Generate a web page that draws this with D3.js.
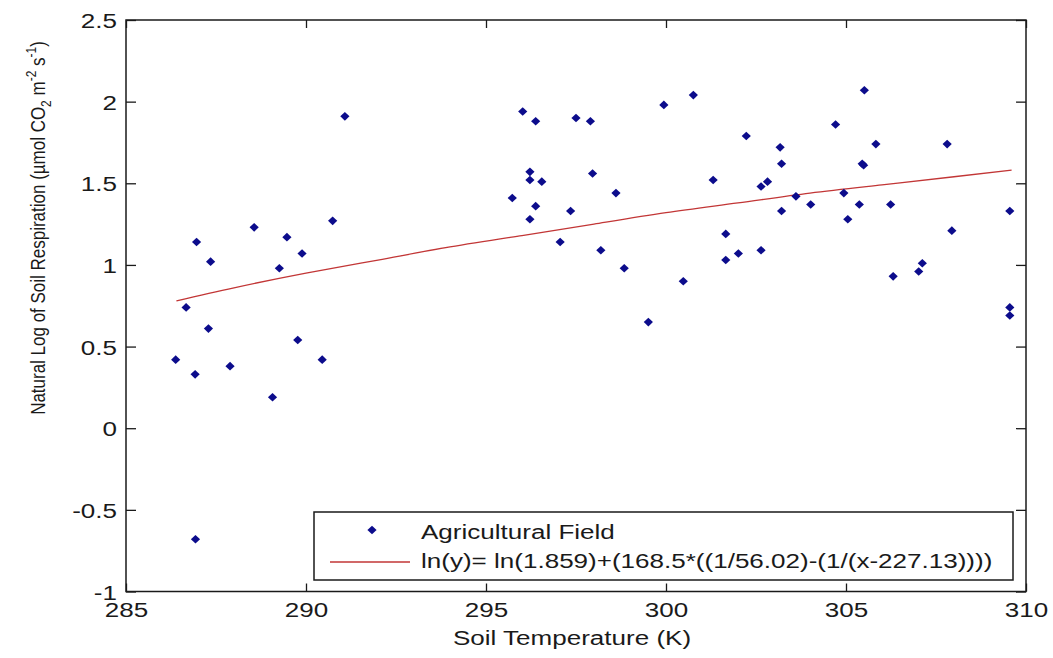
<!DOCTYPE html>
<html>
<head>
<meta charset="utf-8">
<script src="https://cdn.jsdelivr.net/npm/d3@7"></script>
<style>
  html, body { margin: 0; padding: 0; background: #fff; }
  svg { display: block; }
  text { font-family: "Liberation Sans", Arial, sans-serif; fill: #1a1a1a; }
</style>
</head>
<body>
<svg id="chart" width="1053" height="658"></svg>
<script>
// ---- data ----
const soilTemp = [286.38, 286.67, 286.92, 286.93, 286.96, 287.29, 287.35, 287.89, 288.56, 289.07,
  289.26, 289.47, 289.77, 289.89, 290.45, 290.74, 291.08, 295.73, 296.02, 296.22,
  296.22, 296.22, 296.38, 296.38, 296.55, 297.06, 297.35, 297.50, 297.90, 297.96,
  298.19, 298.61, 298.84, 299.51, 299.94, 300.48, 300.76, 301.31, 301.66, 301.66,
  302.01, 302.23, 302.64, 302.64, 302.82, 303.17, 303.21, 303.21, 303.61, 304.02,
  304.71, 304.94, 305.05, 305.37, 305.45, 305.49, 305.51, 305.83, 306.24, 306.31,
  307.02, 307.12, 307.81, 307.94, 309.55, 309.55, 309.55];
const lnResp = [0.42, 0.74, 0.33, -0.68, 1.14, 0.61, 1.02, 0.38, 1.23, 0.19,
  0.98, 1.17, 0.54, 1.07, 0.42, 1.27, 1.91, 1.41, 1.94, 1.57,
  1.52, 1.28, 1.88, 1.36, 1.51, 1.14, 1.33, 1.90, 1.88, 1.56,
  1.09, 1.44, 0.98, 0.65, 1.98, 0.90, 2.04, 1.52, 1.19, 1.03,
  1.07, 1.79, 1.48, 1.09, 1.51, 1.72, 1.62, 1.33, 1.42, 1.37,
  1.86, 1.44, 1.28, 1.37, 1.62, 1.61, 2.07, 1.74, 1.37, 0.93,
  0.96, 1.01, 1.74, 1.21, 1.33, 0.74, 0.69];

// fitted curve, sampled along the red line
const fitTemp = [286.4, 288, 290, 292, 294, 296, 298, 300, 302, 304, 306, 308, 309.6];
const fitVal  = [0.78, 0.86, 0.95, 1.03, 1.11, 1.18, 1.25, 1.32, 1.38, 1.44, 1.49, 1.54, 1.58];

const xTicks = [285, 290, 295, 300, 305, 310];
const xTickLabels = ["285", "290", "295", "300", "305", "310"];
const yTicks = [2.5, 2, 1.5, 1, 0.5, 0, -0.5, -1];
const yTickLabels = ["2.5", "2", "1.5", "1", "0.5", "0", "-0.5", "-1"];

const seriesName = "Agricultural Field";
const fitName = "ln(y)= ln(1.859)+(168.5*((1/56.02)-(1/(x-227.13))))";
const xTitle = "Soil Temperature (K)";

// ---- layout ----
const SX = 1.24;               // horizontal stretch of the original picture
const L = 126, R = 1026, T = 20, B = 591.5;
const svg = d3.select("#chart");
svg.append("rect").attr("width", 1053).attr("height", 658).attr("fill", "#fff");

const x = d3.scaleLinear().domain([285, 310]).range([L, R]);
const y = d3.scaleLinear().domain([-1, 2.5]).range([B, T]);

const axisColor = "#1a1a1a";
function styleAxis(g) {
  g.select(".domain").remove();
  g.selectAll(".tick line").attr("stroke", axisColor).attr("stroke-width", 1.3);
}

// bottom axis with labels
svg.append("g").attr("transform", `translate(0,${B})`)
  .call(d3.axisBottom(x).tickValues(xTicks).tickSize(-8).tickSizeOuter(0)
    .tickFormat((d, i) => xTickLabels[i]))
  .call(styleAxis)
  .call(g => g.selectAll(".tick text")
    .attr("y", null).attr("dy", null)
    .attr("transform", `translate(0,25.5) scale(${SX},1)`)
    .attr("font-size", 21).attr("font-family", "Liberation Sans, Arial, sans-serif")
    .attr("fill", "#1a1a1a"));

// top axis (ticks only)
svg.append("g").attr("transform", `translate(0,${T})`)
  .call(d3.axisTop(x).tickValues(xTicks).tickSize(-8).tickSizeOuter(0).tickFormat(""))
  .call(styleAxis);

// left axis with labels
svg.append("g").attr("transform", `translate(${L},0)`)
  .call(d3.axisLeft(y).tickValues(yTicks).tickSize(-10).tickSizeOuter(0)
    .tickFormat((d, i) => yTickLabels[i]))
  .call(styleAxis)
  .call(g => g.selectAll(".tick text")
    .attr("x", null).attr("dy", null)
    .attr("text-anchor", "end")
    .attr("transform", `translate(-9,7.5) scale(${SX},1)`)
    .attr("font-size", 21).attr("font-family", "Liberation Sans, Arial, sans-serif")
    .attr("fill", "#1a1a1a"));

// right axis (ticks only)
svg.append("g").attr("transform", `translate(${R},0)`)
  .call(d3.axisRight(y).tickValues(yTicks).tickSize(-10).tickSizeOuter(0).tickFormat(""))
  .call(styleAxis);

// plot box
svg.append("rect").attr("x", L).attr("y", T).attr("width", R - L).attr("height", B - T)
  .attr("fill", "none").attr("stroke", axisColor).attr("stroke-width", 1.5);

// fitted curve
const lineColor = "#c23636";
const fitPts = fitTemp.map((t, i) => [t, fitVal[i]]);
svg.append("path")
  .datum(fitPts)
  .attr("d", d3.line().x(d => x(d[0])).y(d => y(d[1])).curve(d3.curveNatural))
  .attr("fill", "none").attr("stroke", lineColor).attr("stroke-width", 1.3);

// scatter markers (diamonds)
const dotColor = "#0c0c8c";
const diamond = "M0,-4.3L4.6,0L0,4.3L-4.6,0Z";
svg.append("g").selectAll("path")
  .data(soilTemp.map((t, i) => [t, lnResp[i]]))
  .join("path")
  .attr("d", diamond)
  .attr("transform", d => `translate(${x(d[0])},${y(d[1])})`)
  .attr("fill", dotColor);

// legend
const lg = svg.append("g");
lg.append("rect").attr("x", 314).attr("y", 512).attr("width", 699).attr("height", 68)
  .attr("fill", "#fff").attr("stroke", axisColor).attr("stroke-width", 1.5);
lg.append("path").attr("d", diamond).attr("transform", "translate(372,530)").attr("fill", dotColor);
lg.append("line").attr("x1", 330).attr("x2", 410).attr("y1", 562).attr("y2", 562)
  .attr("stroke", lineColor).attr("stroke-width", 1.3);
lg.append("text").attr("transform", `translate(421,538.5) scale(${SX},1)`)
  .attr("font-size", 21).text(seriesName);
lg.append("text").attr("transform", `translate(421,568) scale(${SX},1)`)
  .attr("font-size", 21).text(fitName);

// x title
svg.append("text").attr("transform", `translate(572,645) scale(${SX},1)`)
  .attr("text-anchor", "middle").attr("font-size", 21).text(xTitle);

// y title (rotated, with sub/superscripts)
const yt = svg.append("text")
  .attr("transform", `translate(45,228) scale(${SX},1) rotate(-90)`)
  .attr("text-anchor", "middle").attr("font-size", 17);
yt.append("tspan").text("Natural Log of Soil Respiration (\u00B5mol CO");
yt.append("tspan").attr("dy", 5).attr("font-size", 12).text("2");
yt.append("tspan").attr("dy", -5).text(" m");
yt.append("tspan").attr("dy", -7).attr("font-size", 12).text("-2");
yt.append("tspan").attr("dy", 7).text(" s");
yt.append("tspan").attr("dy", -7).attr("font-size", 12).text("-1");
yt.append("tspan").attr("dy", 7).text(")");
</script>
</body>
</html>
